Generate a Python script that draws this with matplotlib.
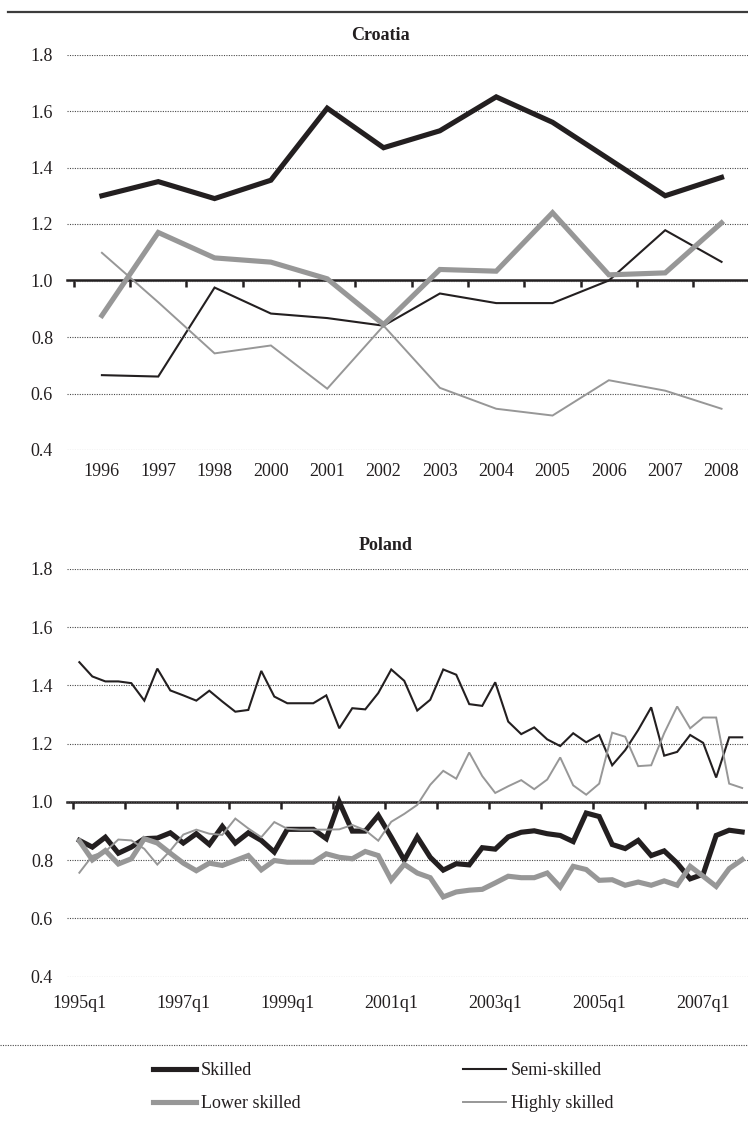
import numpy as np
import matplotlib
matplotlib.use("Agg")
import matplotlib.pyplot as plt
from matplotlib.lines import Line2D

plt.rcParams['font.family'] = ['Liberation Serif', 'DejaVu Serif']

# ---------------- data ----------------
hr_years = ['1996', '1997', '1998', '2000', '2001', '2002', '2003', '2004',
            '2005', '2006', '2007', '2008']
hr_skilled = [1.30, 1.35, 1.29, 1.355, 1.61, 1.47, 1.53, 1.65, 1.56, 1.43, 1.30, 1.365]
hr_semi = [0.665, 0.66, 0.975, 0.883, 0.867, 0.84, 0.954, 0.92, 0.92, 1.0, 1.178, 1.066]
hr_lower = [0.876, 1.17, 1.08, 1.065, 1.006, 0.844, 1.039, 1.033, 1.24, 1.02, 1.027, 1.204]
hr_high = [1.098, 0.923, 0.742, 0.77, 0.617, 0.84, 0.62, 0.546, 0.522, 0.647, 0.61, 0.546]

pl_quarters = [f'{y}q{q}' for y in range(1995, 2008) for q in range(1, 5)]
pl_tick_labels = ['1995q1', '1997q1', '1999q1', '2001q1', '2003q1', '2005q1', '2007q1']
pl_skilled = [0.868, 0.845, 0.879, 0.824, 0.845, 0.874, 0.876, 0.894, 0.859, 0.891,
              0.854, 0.916, 0.859, 0.894, 0.868, 0.828, 0.906, 0.906, 0.906, 0.874,
              1.0, 0.9, 0.9, 0.954, 0.879, 0.80, 0.88, 0.81, 0.766, 0.788,
              0.784, 0.843, 0.838, 0.88, 0.896, 0.901, 0.891, 0.885, 0.864, 0.962,
              0.95, 0.854, 0.84, 0.868, 0.816, 0.832, 0.79, 0.736, 0.752, 0.885,
              0.903, 0.897]
pl_semi = [1.48, 1.431, 1.414, 1.414, 1.408, 1.348, 1.458, 1.383, 1.366, 1.348,
           1.382, 1.345, 1.31, 1.316, 1.45, 1.362, 1.339, 1.339, 1.339, 1.366,
           1.253, 1.322, 1.318, 1.374, 1.455, 1.416, 1.314, 1.351, 1.455, 1.437,
           1.336, 1.33, 1.411, 1.276, 1.233, 1.256, 1.215, 1.192, 1.236, 1.205,
           1.23, 1.126, 1.178, 1.247, 1.325, 1.159, 1.172, 1.23, 1.203, 1.084,
           1.222, 1.222]
pl_lower = [0.866, 0.801, 0.833, 0.787, 0.805, 0.874, 0.859, 0.824, 0.79, 0.764,
            0.79, 0.782, 0.799, 0.816, 0.767, 0.799, 0.793, 0.793, 0.793, 0.822,
            0.81, 0.805, 0.83, 0.816, 0.732, 0.786, 0.756, 0.74, 0.674, 0.691,
            0.697, 0.70, 0.722, 0.745, 0.74, 0.74, 0.756, 0.708, 0.779, 0.768,
            0.731, 0.733, 0.714, 0.725, 0.714, 0.729, 0.714, 0.779, 0.745, 0.71,
            0.771, 0.802]
pl_high = [0.757, 0.815, 0.83, 0.871, 0.868, 0.839, 0.785, 0.833, 0.888, 0.905,
           0.891, 0.887, 0.943, 0.909, 0.879, 0.931, 0.908, 0.905, 0.905, 0.905,
           0.906, 0.921, 0.903, 0.867, 0.932, 0.959, 0.99, 1.059, 1.107, 1.08,
           1.17, 1.089, 1.031, 1.054, 1.075, 1.044, 1.077, 1.153, 1.057, 1.025,
           1.063, 1.238, 1.224, 1.123, 1.126, 1.236, 1.328, 1.253, 1.29, 1.29,
           1.063, 1.048]

series_names = ['Skilled', 'Semi-skilled', 'Lower skilled', 'Highly skilled']
yticks = [0.4, 0.6, 0.8, 1.0, 1.2, 1.4, 1.6, 1.8]

# ---------------- styles ----------------
BLACK = '#231f20'
GRAY = '#979797'
TXT = '#231f20'
styles = {
    'Skilled': dict(color=BLACK, lw=3.7),
    'Semi-skilled': dict(color=BLACK, lw=1.5),
    'Lower skilled': dict(color=GRAY, lw=3.7),
    'Highly skilled': dict(color=GRAY, lw=1.4),
}
FS = 13

W, H = 748, 1127
fig = plt.figure(figsize=(W / 100, H / 100), dpi=100)


def fy(px):
    return 1 - px / H


def setup(ax, n, xlim, tick_step, xpad):
    ax.set_ylim(0.4, 1.8)
    ax.set_xlim(*xlim)
    for s in ax.spines.values():
        s.set_visible(False)
    ax.set_yticks(yticks)
    ax.set_yticklabels([f'{v:.1f}' for v in yticks])
    ax.tick_params(axis='y', length=0, pad=10, labelsize=FS, labelcolor=TXT)
    ax.tick_params(axis='x', length=0, pad=xpad, labelsize=FS, labelcolor=TXT)
    ax.yaxis.grid(True, linestyle=(0, (1, 1.2)), linewidth=0.8, color='#4a4a4a')
    ax.set_axisbelow(True)
    sec = ax.secondary_xaxis((1.0 - 0.4) / (1.8 - 0.4))
    sec.set_xticks(np.arange(-0.5, n, tick_step))
    sec.tick_params(direction='out', length=5, width=1.8, color=BLACK,
                    labelbottom=False, labeltop=False)
    for s in sec.spines.values():
        s.set_linewidth(1.8)
        s.set_color(BLACK)


# ---------------- Croatia ----------------
ax1 = fig.add_axes([67 / W, fy(450), (W - 67) / W, (450 - 54.5) / H])
x1 = np.arange(len(hr_years))
handles = {}
for name, vals in zip(series_names, [hr_skilled, hr_semi, hr_lower, hr_high]):
    handles[name], = ax1.plot(x1, vals, solid_joinstyle='miter', **styles[name])
setup(ax1, len(hr_years), (-0.62, 11.47), 1, 9)
ax1.set_xticks(x1)
ax1.set_xticklabels(hr_years)
fig.text(380 / W, fy(36), 'Croatia', ha='center', va='center',
         fontsize=FS, fontweight='bold', color=TXT)

# ---------------- Poland ----------------
ax2 = fig.add_axes([67 / W, fy(976.7), (W - 67) / W, (976.7 - 569) / H])
x2 = np.arange(len(pl_quarters))
for name, vals in zip(series_names, [pl_skilled, pl_semi, pl_lower, pl_high]):
    ax2.plot(x2, vals, solid_joinstyle='miter', **styles[name])
setup(ax2, len(pl_quarters), (-0.95, 51.45), 4, 13)
ax2.set_xticks([pl_quarters.index(l) for l in pl_tick_labels])
ax2.set_xticklabels(pl_tick_labels)
fig.text(386 / W, fy(545), 'Poland', ha='center', va='center',
         fontsize=FS, fontweight='bold', color=TXT)

# ---------------- decorations ----------------
fig.add_artist(Line2D([8 / W, 1], [fy(11.7), fy(11.7)], transform=fig.transFigure,
                      color='#3c3c3c', lw=1.6))
fig.add_artist(Line2D([0, 1], [fy(1045), fy(1045)], transform=fig.transFigure,
                      color='#4a4a4a', lw=0.8, linestyle=(0, (1, 1.2))))

leg_kw = dict(loc='upper left', frameon=False, handlelength=2.4, handletextpad=0.25,
              borderpad=0, borderaxespad=0, labelspacing=0.9, fontsize=FS,
              labelcolor=TXT)
fig.legend([handles['Skilled'], handles['Lower skilled']],
           ['Skilled', 'Lower skilled'], bbox_to_anchor=(153 / W, fy(1062)), **leg_kw)
fig.legend([handles['Semi-skilled'], handles['Highly skilled']],
           ['Semi-skilled', 'Highly skilled'], bbox_to_anchor=(463 / W, fy(1062)), **leg_kw)

fig.savefig('out.png', dpi=100)
